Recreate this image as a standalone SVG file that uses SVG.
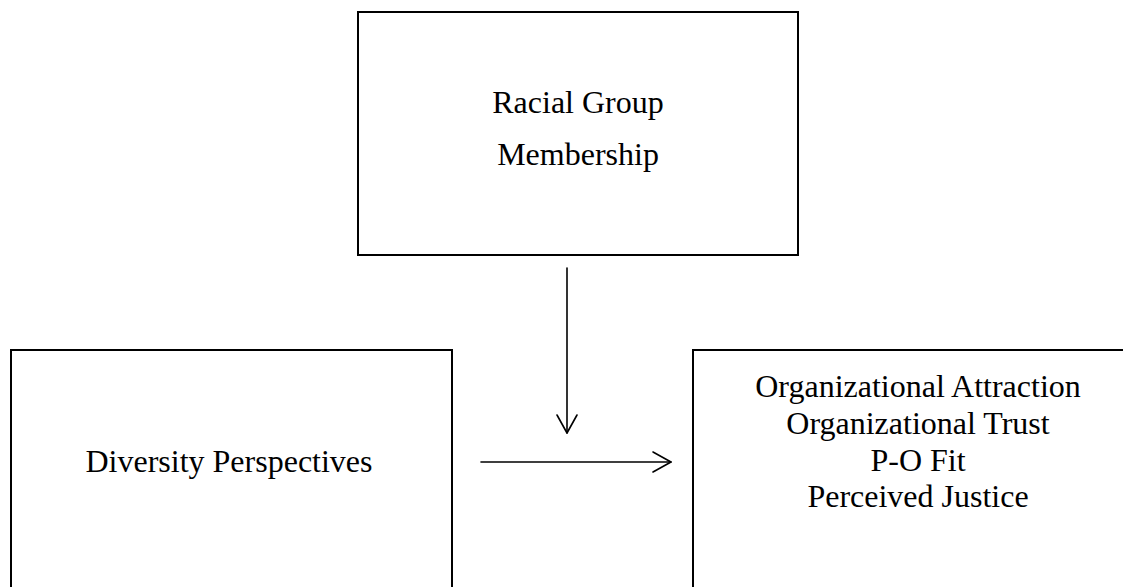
<svg xmlns="http://www.w3.org/2000/svg" width="1123" height="587" viewBox="0 0 1123 587">
<style>
.box{fill:#fff;stroke:#000;stroke-width:2}
.lbl{font-family:"Liberation Serif","Times New Roman",serif;font-size:32px;fill:#000;text-anchor:middle}
.conn{stroke:#000;stroke-width:1.6;fill:none;stroke-linecap:round;stroke-linejoin:round}
</style>
<rect width="1123" height="587" fill="#fff"/>
<g id="node-racial">
<rect class="box" x="358" y="12" width="440" height="243"/>
<text class="lbl" x="578" y="113">Racial Group</text>
<text class="lbl" x="578" y="165">Membership</text>
</g>
<g id="node-diversity">
<rect class="box" x="11" y="350" width="441" height="260"/>
<text class="lbl" x="229" y="472">Diversity Perspectives</text>
</g>
<g id="node-outcomes">
<rect class="box" x="693" y="350" width="450" height="260"/>
<text class="lbl" x="918" y="397">Organizational Attraction</text>
<text class="lbl" x="918" y="434">Organizational Trust</text>
<text class="lbl" x="918" y="471">P-O Fit</text>
<text class="lbl" x="918" y="507">Perceived Justice</text>
</g>
<g id="connectors">
<line class="conn" x1="567" y1="268" x2="567" y2="433"/>
<polyline class="conn" points="557,415 567,433 577,415"/>
<line class="conn" x1="481" y1="462" x2="671" y2="462"/>
<polyline class="conn" points="653,452 671,462 653,472"/>
</g>
</svg>
